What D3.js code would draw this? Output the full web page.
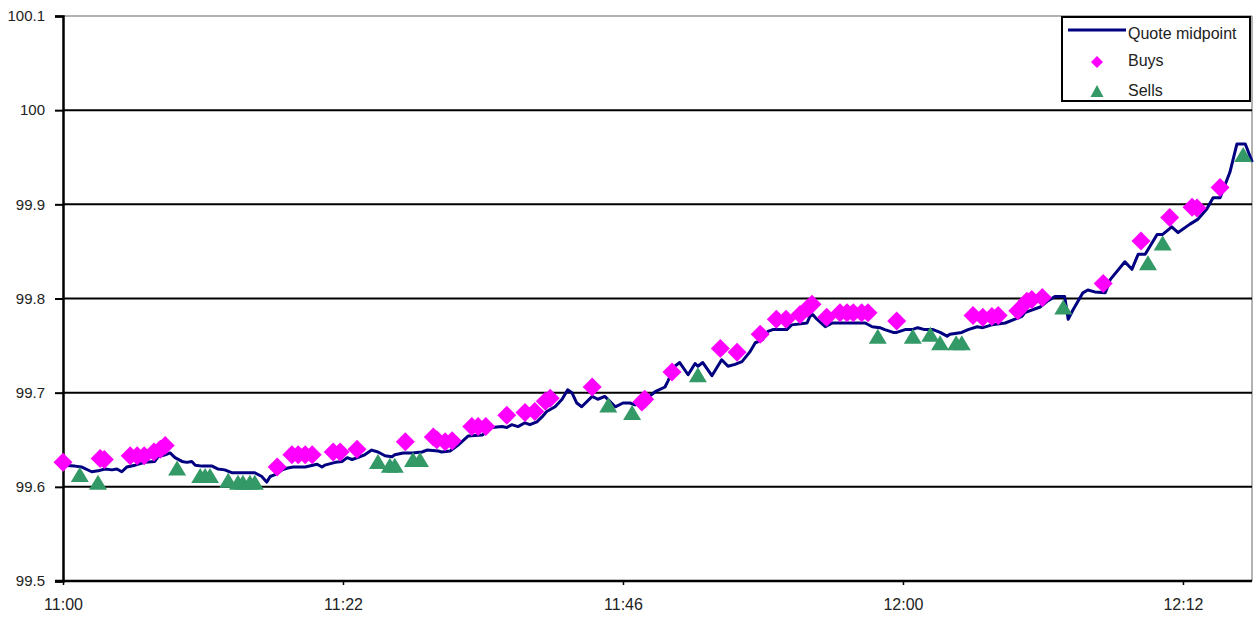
<!DOCTYPE html>
<html><head><meta charset="utf-8">
<script src="https://cdn.jsdelivr.net/npm/d3@7"></script>
<style>
html,body{margin:0;padding:0;background:#fff;}
svg{display:block;font-family:"Liberation Sans",Arial,sans-serif;}
</style></head>
<body><svg id="c" width="1256" height="618"></svg>
<script>
// Category-axis positions (40 categories between labelled ticks)
const tickPositions = [0, 40, 80, 120, 160];
const tickLabels = ["11:00", "11:22", "11:46", "12:00", "12:12"];
const yTicks = [99.5, 99.6, 99.7, 99.8, 99.9, 100, 100.1];
const yTickLabels = ["99.5", "99.6", "99.7", "99.8", "99.9", "100", "100.1"];

// Quote midpoint line: [category position, price]
const quoteMidpoint = [
[0,99.623],[1.7,99.622],[2.7,99.621],[4.1,99.616],[5.0,99.617],[6.0,99.619],[7.0,99.618],[7.7,99.619],[8.4,99.616],[9.1,99.621],
[10.3,99.623],[11.7,99.626],[13.1,99.627],[13.6,99.632],[14.6,99.634],[15.3,99.636],[16.0,99.631],[17.0,99.627],[17.7,99.626],[18.4,99.627],
[18.9,99.623],[19.9,99.622],[21.3,99.622],[22.1,99.619],[23.1,99.618],[24.1,99.615],[27.4,99.615],[28.4,99.611],[29.1,99.605],[29.6,99.611],
[30.3,99.613],[31.3,99.618],[32.1,99.620],[32.9,99.621],[34.6,99.621],[36.3,99.624],[37.0,99.621],[37.4,99.623],[38.9,99.626],[39.9,99.627],
[40.6,99.631],[41.3,99.629],[42.1,99.631],[43.1,99.634],[44.1,99.639],[45.0,99.637],[46.0,99.633],[47.0,99.632],[47.4,99.634],[48.6,99.636],
[49.9,99.636],[51.3,99.637],[52.0,99.639],[53.6,99.638],[54.1,99.637],[55.3,99.638],[56.4,99.644],[57.9,99.654],[59.9,99.655],[61.3,99.663],
[62.7,99.664],[63.4,99.663],[64.1,99.666],[65.0,99.664],[66.0,99.668],[66.7,99.666],[67.7,99.669],[68.4,99.674],[69.1,99.680],[70.3,99.685],
[71.3,99.693],[72.1,99.703],[72.7,99.700],[73.4,99.689],[74.1,99.685],[75.6,99.696],[76.4,99.693],[77.4,99.696],[78.9,99.685],[80.0,99.689],
[81.0,99.689],[81.7,99.687],[83.6,99.695],[84.6,99.701],[86.0,99.706],[86.4,99.712],[87.4,99.728],[88.1,99.732],[89.3,99.719],[90.3,99.731],
[90.7,99.728],[91.4,99.732],[92.7,99.718],[94.1,99.735],[95.0,99.728],[96.0,99.730],[97.0,99.733],[98.1,99.743],[98.9,99.753],[99.9,99.756],
[100.7,99.765],[101.4,99.767],[103.4,99.767],[104.1,99.772],[106.3,99.774],[106.7,99.781],[107.1,99.783],[107.7,99.778],[108.9,99.770],[109.9,99.774],
[114.6,99.774],[115.6,99.770],[116.7,99.769],[117.4,99.767],[118.6,99.764],[119.1,99.764],[120.3,99.767],[121.3,99.767],[122.1,99.769],[123.1,99.767],
[124.3,99.767],[125.3,99.764],[126.3,99.760],[126.7,99.762],[128.4,99.764],[129.3,99.767],[130.6,99.770],[131.4,99.769],[132.7,99.772],[134.6,99.774],
[136.0,99.778],[137.0,99.781],[137.4,99.785],[139.6,99.791],[140.6,99.797],[141.7,99.802],[143.1,99.802],[143.6,99.778],[144.3,99.788],[145.7,99.806],
[146.4,99.809],[147.4,99.807],[148.9,99.806],[149.6,99.820],[151.7,99.839],[152.7,99.831],[153.6,99.847],[154.6,99.847],[156.3,99.868],[157.1,99.868],
[158.4,99.876],[159.3,99.870],[161.0,99.879],[162.1,99.884],[163.4,99.895],[164.3,99.907],[165.3,99.907],[166.7,99.934],[167.7,99.964],[168.9,99.964],
[169.9,99.945]
];

// Buy trades: [category position, price]
const buys = [
[0,99.626],[5.3,99.630],[5.9,99.629],[9.6,99.633],[10.6,99.633],[11.6,99.633],[13.0,99.637],[13.9,99.640],[14.6,99.644],
[30.6,99.621],[32.7,99.634],[33.6,99.634],[34.6,99.634],[35.6,99.634],[38.6,99.637],[39.6,99.637],[42.0,99.640],
[48.9,99.648],[52.9,99.653],[53.4,99.650],[54.6,99.648],[55.6,99.649],[58.4,99.664],[59.3,99.664],[60.4,99.664],
[63.4,99.676],[66.0,99.679],[67.4,99.680],[68.9,99.691],[69.6,99.694],[75.6,99.706],[82.7,99.690],[83.1,99.693],
[87.0,99.722],[93.9,99.747],[96.3,99.743],[99.6,99.762],[101.9,99.778],[103.3,99.778],[105.3,99.783],[106.4,99.790],[107.0,99.794],
[109.1,99.780],[111.0,99.785],[112.0,99.785],[112.9,99.785],[114.1,99.785],[115.0,99.785],[119.1,99.776],
[130.0,99.782],[131.4,99.780],[132.7,99.781],[133.6,99.782],[136.4,99.787],[137.7,99.797],[138.4,99.799],[139.9,99.801],
[148.6,99.816],[154.0,99.861],[158.1,99.886],[161.3,99.897],[162.0,99.896],[165.3,99.918]
];

// Sell trades: [category position, price]
const sells = [
[2.4,99.613],[5.0,99.605],[16.3,99.620],[19.6,99.612],[20.3,99.612],[21.0,99.612],[23.6,99.607],[25.0,99.605],[25.7,99.605],[26.7,99.605],[27.4,99.605],
[45.0,99.627],[46.7,99.623],[47.4,99.623],[50.0,99.629],[51.0,99.629],
[77.9,99.687],[81.3,99.679],[90.7,99.719],
[116.4,99.760],[121.4,99.760],[123.9,99.762],[125.3,99.753],[127.6,99.753],[128.4,99.753],
[142.9,99.791],[155.0,99.838],[157.1,99.859],[168.6,99.953]
];

const seriesNames = ["Quote midpoint", "Buys", "Sells"];
const colors = {line: "#000080", buy: "#ff00ff", sell: "#339966"};

const svg = d3.select("#c");
const L = 63, R = 1252, T = 16, B = 581;
const x = d3.scaleLinear().domain([0, 169.86]).range([L, R]);
const y = d3.scaleLinear().domain([99.5, 100.1]).range([B, T]);
const textColor = "#222";

// plot border (top/right gray)
svg.append("line").attr("x1", L).attr("x2", R).attr("y1", T).attr("y2", T)
  .attr("stroke", "#999").attr("stroke-width", 1.5);
svg.append("line").attr("x1", R).attr("x2", R).attr("y1", T).attr("y2", B)
  .attr("stroke", "#999").attr("stroke-width", 1.5);

// gridlines
svg.append("g").selectAll("line").data(yTicks.filter(v => v > 99.5 && v < 100.1)).join("line")
  .attr("x1", L).attr("x2", R).attr("y1", d => y(d)).attr("y2", d => y(d))
  .attr("stroke", "#000").attr("stroke-width", 2);

// Y axis
const yAxis = d3.axisLeft(y).tickValues(yTicks).tickSize(8).tickPadding(10)
  .tickFormat((d, i) => yTickLabels[i]);
const gy = svg.append("g").attr("transform", `translate(${L},0)`).call(yAxis);
gy.select(".domain").attr("stroke", "#000").attr("stroke-width", 2.5);
gy.selectAll(".tick line").attr("stroke", "#000").attr("stroke-width", 2);
gy.selectAll(".tick text").attr("font-size", 15).attr("fill", textColor)
  .attr("font-family", "Liberation Sans, Arial, sans-serif");

// X axis
const xAxis = d3.axisBottom(x).tickValues(tickPositions).tickSize(4).tickPadding(14)
  .tickFormat((d, i) => tickLabels[i]);
const gx = svg.append("g").attr("transform", `translate(0,${B})`).call(xAxis);
gx.select(".domain").attr("stroke", "#000").attr("stroke-width", 2.5)
  .attr("d", `M${L - 8},0H${R}`);
gx.selectAll(".tick line").attr("stroke", "#000").attr("stroke-width", 1.5);
gx.selectAll(".tick text").attr("font-size", 16).attr("fill", textColor)
  .attr("font-family", "Liberation Sans, Arial, sans-serif");

// quote line
const line = d3.line().x(d => x(d[0])).y(d => y(d[1]));
svg.append("path").datum(quoteMidpoint).attr("d", line)
  .attr("fill", "none").attr("stroke", colors.line).attr("stroke-width", 3)
  .attr("stroke-linejoin", "round");

function diamondPath(r) { return `M0,${-r}L${r},0L0,${r}L${-r},0Z`; }
function trianglePath(w, h) { return `M0,${-h / 2}L${w / 2},${h / 2}L${-w / 2},${h / 2}Z`; }

svg.append("g").selectAll("path").data(buys).join("path")
  .attr("transform", d => `translate(${x(d[0])},${y(d[1])})`)
  .attr("d", diamondPath(9.5)).attr("fill", colors.buy);

svg.append("g").selectAll("path").data(sells).join("path")
  .attr("transform", d => `translate(${x(d[0])},${y(d[1])})`)
  .attr("d", trianglePath(18, 15)).attr("fill", colors.sell);

// legend
const lg = svg.append("g");
lg.append("rect").attr("x", 1062).attr("y", 17).attr("width", 188).attr("height", 84)
  .attr("fill", "#fff").attr("stroke", "#000").attr("stroke-width", 2);
lg.append("line").attr("x1", 1068).attr("x2", 1126).attr("y1", 30).attr("y2", 30)
  .attr("stroke", colors.line).attr("stroke-width", 3);
lg.append("path").attr("transform", "translate(1097,62)").attr("d", diamondPath(6)).attr("fill", colors.buy);
lg.append("path").attr("transform", "translate(1097,91)").attr("d", trianglePath(13, 12)).attr("fill", colors.sell);
const legendY = [39, 66, 96];
lg.selectAll("text").data(seriesNames).join("text")
  .attr("x", 1128).attr("y", (d, i) => legendY[i]).text(d => d)
  .attr("font-size", 16).attr("fill", textColor);
</script></body></html>
